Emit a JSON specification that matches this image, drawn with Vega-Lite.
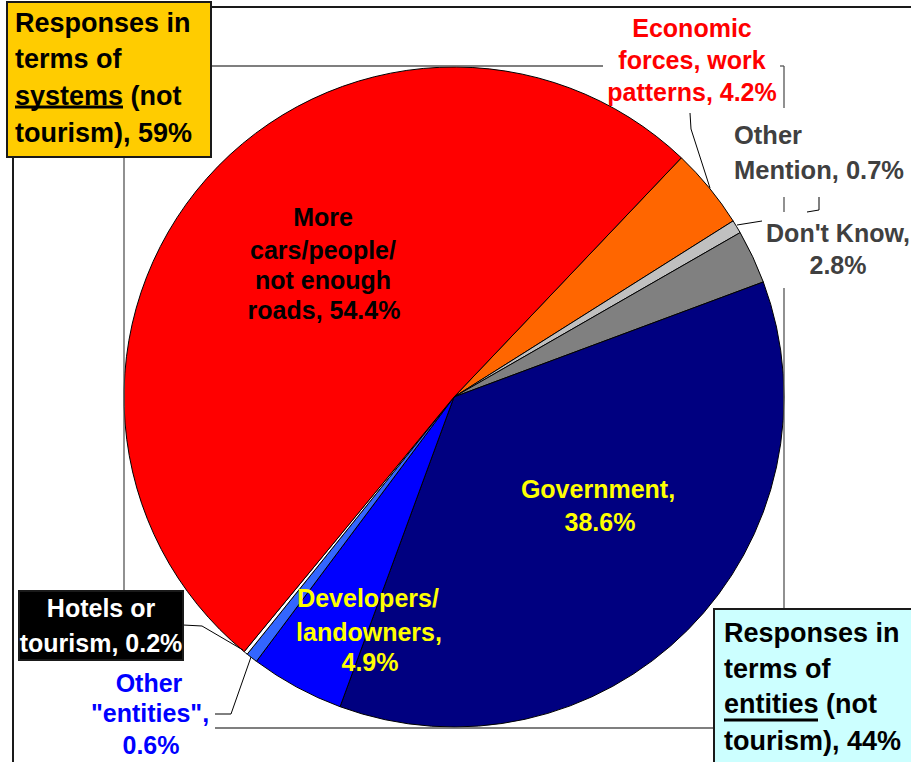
{
  "$schema": "https://vega.github.io/schema/vega-lite/v6.json",
  "width": 911,
  "height": 762,
  "autosize": "none",
  "padding": 0,
  "background": "#FFFFFF",
  "config": {"view": {"stroke": null}},
  "datasets": {
    "slices": [
      {"name": "Economic forces, work patterns", "pct": 4.2, "idx": 1},
      {"name": "Other Mention", "pct": 0.7, "idx": 2},
      {"name": "Don't Know", "pct": 2.8, "idx": 3},
      {"name": "Government", "pct": 38.6, "idx": 4},
      {"name": "Developers/landowners", "pct": 4.9, "idx": 5},
      {"name": "Other entities", "pct": 0.6, "idx": 6},
      {"name": "Hotels or tourism", "pct": 0.2, "idx": 7},
      {"name": "More cars/people/not enough roads", "pct": 54.4, "idx": 8}
    ],
    "lines": [
      {"kind": "frame", "x": 211, "y": 7, "x2": 911, "y2": 7},
      {"kind": "frame", "x": 13, "y": 157, "x2": 13, "y2": 762},
      {"kind": "bracket", "x": 211, "y": 66, "x2": 603, "y2": 66},
      {"kind": "bracket", "x": 780, "y": 66, "x2": 784, "y2": 66},
      {"kind": "bracket", "x": 784, "y": 66, "x2": 784, "y2": 108},
      {"kind": "bracket", "x": 124, "y": 157, "x2": 124, "y2": 661},
      {"kind": "bracket", "x": 784, "y": 197, "x2": 784, "y2": 212},
      {"kind": "bracket", "x": 784, "y": 288, "x2": 784, "y2": 609},
      {"kind": "bracket", "x": 215, "y": 728, "x2": 714, "y2": 728},
      {"kind": "leader", "x": 690, "y": 113, "x2": 691, "y2": 129},
      {"kind": "leader", "x": 691, "y": 129, "x2": 710, "y2": 188},
      {"kind": "leader", "x": 737, "y": 225, "x2": 762, "y2": 221},
      {"kind": "leader", "x": 807, "y": 212, "x2": 819, "y2": 210},
      {"kind": "leader", "x": 819, "y": 210, "x2": 819, "y2": 197},
      {"kind": "leader", "x": 183, "y": 625, "x2": 202, "y2": 626},
      {"kind": "leader", "x": 202, "y": 626, "x2": 243, "y2": 650},
      {"kind": "leader", "x": 215, "y": 714, "x2": 231, "y2": 714},
      {"kind": "leader", "x": 231, "y": 714, "x2": 251, "y2": 657},
      {"kind": "underline", "x": 15, "y": 107, "x2": 123, "y2": 107},
      {"kind": "underline", "x": 724, "y": 720, "x2": 818, "y2": 720}
    ],
    "boxes": [
      {"box": "systems", "x": 7, "y": 2, "x2": 211, "y2": 157},
      {"box": "entities", "x": 714, "y": 609, "x2": 920, "y2": 770},
      {"box": "hotels", "x": 19, "y": 591, "x2": 183, "y2": 660}
    ],
    "labels": [
      {"grp": "systems", "t": "Responses in", "x": 15, "y": 24},
      {"grp": "systems", "t": "terms of", "x": 15, "y": 60},
      {"grp": "systems", "t": "systems (not", "x": 15, "y": 97},
      {"grp": "systems", "t": "tourism), 59%", "x": 15, "y": 133.5},
      {"grp": "entities", "t": "Responses in", "x": 724, "y": 633.5},
      {"grp": "entities", "t": "terms of", "x": 724, "y": 670},
      {"grp": "entities", "t": "entities (not", "x": 724, "y": 705},
      {"grp": "entities", "t": "tourism), 44%", "x": 724, "y": 741.5},
      {"grp": "econ", "t": "Economic", "x": 692, "y": 29},
      {"grp": "econ", "t": "forces, work", "x": 692, "y": 61},
      {"grp": "econ", "t": "patterns, 4.2%", "x": 692, "y": 92.5},
      {"grp": "other", "t": "Other", "x": 734, "y": 136},
      {"grp": "other", "t": "Mention, 0.7%", "x": 734, "y": 171},
      {"grp": "dk", "t": "Don't Know,", "x": 838, "y": 234},
      {"grp": "dk", "t": "2.8%", "x": 838, "y": 266},
      {"grp": "cars", "t": "More", "x": 323, "y": 218},
      {"grp": "cars", "t": "cars/people/", "x": 323, "y": 251},
      {"grp": "cars", "t": "not enough", "x": 323, "y": 281},
      {"grp": "cars", "t": "roads, 54.4%", "x": 324, "y": 311},
      {"grp": "gov", "t": "Government,", "x": 598, "y": 490},
      {"grp": "gov", "t": "38.6%", "x": 600, "y": 523},
      {"grp": "dev", "t": "Developers/", "x": 368, "y": 599},
      {"grp": "dev", "t": "landowners,", "x": 369, "y": 633},
      {"grp": "dev", "t": "4.9%", "x": 370, "y": 663},
      {"grp": "hotels", "t": "Hotels or", "x": 101, "y": 609},
      {"grp": "hotels", "t": "tourism, 0.2%", "x": 101, "y": 644},
      {"grp": "oe", "t": "Other", "x": 149, "y": 684},
      {"grp": "oe", "t": "\"entities\",", "x": 150, "y": 714},
      {"grp": "oe", "t": "0.6%", "x": 151, "y": 746}
    ]
  },
  "layer": [
    {
      "data": {"name": "slices"},
      "mark": {"type": "arc", "outerRadius": 330, "stroke": "#000000", "strokeWidth": 1},
      "encoding": {
        "theta": {"field": "pct", "type": "quantitative", "stack": true, "scale": {"range": [0.76, 7.0432]}},
        "order": {"field": "idx", "type": "quantitative"},
        "color": {
          "field": "name", "type": "nominal", "legend": null,
          "scale": {
            "domain": ["Economic forces, work patterns", "Other Mention", "Don't Know", "Government", "Developers/landowners", "Other entities", "Hotels or tourism", "More cars/people/not enough roads"],
            "range": ["#FF6600", "#C0C0C0", "#808080", "#000080", "#0000FF", "#3366FF", "#FFFFFF", "#FF0000"]
          }
        },
        "x": {"datum": 454, "type": "quantitative", "scale": {"domain": [0, 911], "nice": false, "zero": false}, "axis": null},
        "y": {"datum": 397, "type": "quantitative", "scale": {"domain": [0, 762], "reverse": true, "nice": false, "zero": false}, "axis": null}
      }
    },
    {
      "data": {"name": "lines"},
      "transform": [{"filter": {"field": "kind", "equal": "frame"}}],
      "mark": {"type": "rule", "color": "#1a1a1a", "strokeWidth": 2},
      "encoding": {
        "x": {"field": "x", "type": "quantitative", "scale": {"domain": [0, 911], "nice": false, "zero": false}, "axis": null},
        "y": {"field": "y", "type": "quantitative", "scale": {"domain": [0, 762], "reverse": true, "nice": false, "zero": false}, "axis": null},
        "x2": {"field": "x2"},
        "y2": {"field": "y2"}
      }
    },
    {
      "data": {"name": "lines"},
      "transform": [{"filter": {"field": "kind", "equal": "bracket"}}],
      "mark": {"type": "rule", "color": "#555555", "strokeWidth": 1.3},
      "encoding": {
        "x": {"field": "x", "type": "quantitative", "axis": null},
        "y": {"field": "y", "type": "quantitative", "axis": null},
        "x2": {"field": "x2"},
        "y2": {"field": "y2"}
      }
    },
    {
      "data": {"name": "lines"},
      "transform": [{"filter": {"field": "kind", "equal": "leader"}}],
      "mark": {"type": "rule", "color": "#000000", "strokeWidth": 1},
      "encoding": {
        "x": {"field": "x", "type": "quantitative", "axis": null},
        "y": {"field": "y", "type": "quantitative", "axis": null},
        "x2": {"field": "x2"},
        "y2": {"field": "y2"}
      }
    },
    {
      "data": {"name": "boxes"},
      "mark": {"type": "rect", "stroke": "#1a1a1a", "strokeWidth": 2},
      "encoding": {
        "x": {"field": "x", "type": "quantitative", "axis": null},
        "y": {"field": "y", "type": "quantitative", "axis": null},
        "x2": {"field": "x2"},
        "y2": {"field": "y2"},
        "color": {"field": "box", "type": "nominal", "legend": null, "scale": {"domain": ["systems", "entities", "hotels"], "range": ["#FFCC00", "#CCFFFF", "#000000"]}}
      }
    },
    {
      "data": {"name": "lines"},
      "transform": [{"filter": {"field": "kind", "equal": "underline"}}],
      "mark": {"type": "rule", "color": "#000000", "strokeWidth": 3},
      "encoding": {
        "x": {"field": "x", "type": "quantitative", "axis": null},
        "y": {"field": "y", "type": "quantitative", "axis": null},
        "x2": {"field": "x2"},
        "y2": {"field": "y2"}
      }
    },
    {
      "data": {"name": "labels"},
      "transform": [{"filter": {"field": "grp", "oneOf": ["systems", "entities"]}}],
      "mark": {"type": "text", "align": "left", "baseline": "middle", "font": "Liberation Sans", "fontWeight": "bold", "fontSize": 27},
      "encoding": {
        "x": {"field": "x", "type": "quantitative", "axis": null},
        "y": {"field": "y", "type": "quantitative", "axis": null},
        "text": {"field": "t"},
        "color": {"value": "#000000"}
      }
    },
    {
      "data": {"name": "labels"},
      "transform": [{"filter": {"field": "grp", "oneOf": ["other"]}}],
      "mark": {"type": "text", "align": "left", "baseline": "middle", "font": "Liberation Sans", "fontWeight": "bold", "fontSize": 25.5},
      "encoding": {
        "x": {"field": "x", "type": "quantitative", "axis": null},
        "y": {"field": "y", "type": "quantitative", "axis": null},
        "text": {"field": "t"},
        "color": {"value": "#404040"}
      }
    },
    {
      "data": {"name": "labels"},
      "transform": [{"filter": {"field": "grp", "oneOf": ["econ", "dk", "cars", "gov", "dev", "oe"]}}],
      "mark": {"type": "text", "align": "center", "baseline": "middle", "font": "Liberation Sans", "fontWeight": "bold", "fontSize": 25},
      "encoding": {
        "x": {"field": "x", "type": "quantitative", "axis": null},
        "y": {"field": "y", "type": "quantitative", "axis": null},
        "text": {"field": "t"},
        "color": {"field": "grp", "type": "nominal", "legend": null, "scale": {"domain": ["econ", "dk", "cars", "gov", "dev", "oe"], "range": ["#FF0000", "#404040", "#000000", "#FFFF00", "#FFFF00", "#0000FF"]}}
      }
    },
    {
      "data": {"name": "labels"},
      "transform": [{"filter": {"field": "grp", "oneOf": ["hotels"]}}],
      "mark": {"type": "text", "align": "center", "baseline": "middle", "font": "Liberation Sans", "fontWeight": "bold", "fontSize": 25},
      "encoding": {
        "x": {"field": "x", "type": "quantitative", "axis": null},
        "y": {"field": "y", "type": "quantitative", "axis": null},
        "text": {"field": "t"},
        "color": {"value": "#FFFFFF"}
      }
    }
  ],
  "resolve": {"scale": {"color": "independent"}}
}
